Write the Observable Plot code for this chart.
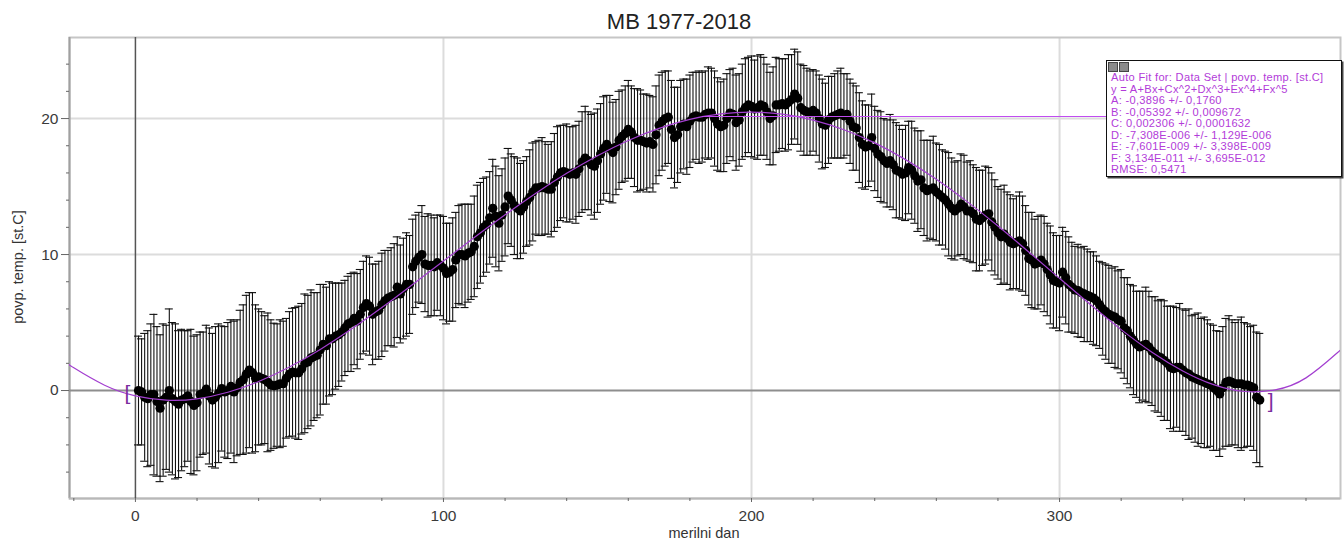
<!DOCTYPE html>
<html><head><meta charset="utf-8">
<script src="https://cdn.jsdelivr.net/npm/d3@7"></script>
<script src="https://cdn.jsdelivr.net/npm/@observablehq/plot@0.6"></script>
<style>
body{margin:0;background:#fff;}
#wrap{position:relative;width:1344px;height:540px;font-family:"Liberation Sans",Arial,sans-serif;overflow:hidden;}
#title{position:absolute;left:529px;width:300px;top:9px;text-align:center;font-size:22px;color:#222;line-height:26px;}
#xlab{position:absolute;left:604px;width:200px;top:525px;text-align:center;font-size:14.5px;color:#333;line-height:16px;}
#ylab{position:absolute;left:18px;top:267px;transform:translate(-50%,-50%) rotate(-90deg);white-space:nowrap;font-size:14.5px;color:#333;}
#fitbox{position:absolute;left:1106px;top:60px;width:230px;height:115px;border:1.5px solid #111;box-shadow:1.5px 1.5px 0 #444;background:#fff;padding:0 0 0 4px;color:#b23bd9;font-size:11.1px;line-height:11.5px;letter-spacing:0.3px;box-sizing:content-box;}
#fitbox .icons{height:11px;position:relative;}
#fitbox .icons span{position:absolute;top:1px;width:8px;height:8px;background:#8a8a8a;border:1px solid #444;}
#connector{position:absolute;height:1.5px;background:#c04cf0;}
</style></head><body><div id="wrap"></div>
<script>
// ---- data ----
const titleText = "MB 1977-2018";
const xLabel = "merilni dan";
const yLabel = "povp. temp. [st.C]";

const meanTemp = [
 0.0,-0.1,-0.5,-0.6,-0.3,-0.3,-0.8,-1.3,-0.7,-0.5,
 0.0,-0.6,-0.8,-1.0,-0.7,-0.6,-0.4,-0.8,-1.1,-0.9,
 -0.3,-0.2,0.1,-0.4,-0.7,-0.5,-0.2,0.15,-0.1,0.0,
 0.3,-0.1,0.2,0.6,0.8,1.2,1.5,1.3,0.9,1.0,
 0.9,0.8,0.6,0.4,0.35,0.4,0.5,0.5,0.9,1.2,
 1.35,1.3,1.3,1.6,2.0,2.1,2.4,2.5,2.6,3.0,
 3.4,3.3,3.8,3.8,4.0,4.1,4.3,4.6,4.9,5.0,
 5.3,5.1,5.6,6.1,6.4,6.2,5.6,5.8,5.9,6.3,
 6.6,6.8,6.9,7.0,7.6,7.1,7.5,7.8,7.8,9.1,
 9.5,9.8,10.0,9.3,9.2,9.2,9.1,9.4,9.2,9.0,
 8.6,8.7,8.9,9.6,10.0,10.0,9.9,10.1,10.2,10.6,
 11.3,11.6,12.0,12.2,12.7,13.4,12.8,12.3,12.9,13.5,
 14.3,14.0,13.6,13.4,13.2,13.5,13.9,14.2,14.6,14.9,
 14.9,15.0,14.9,14.8,14.8,15.3,15.7,16.0,16.1,16.0,
 15.9,16.0,15.9,16.3,16.8,17.1,16.9,16.6,16.5,16.9,
 17.4,17.8,18.1,17.8,17.5,17.9,18.4,18.7,18.9,19.2,
 19.0,18.6,18.4,18.4,18.3,18.2,18.3,18.1,18.8,19.5,
 19.8,20.0,20.1,19.2,18.6,18.8,19.4,19.6,19.4,19.8,
 20.1,20.2,20.1,20.1,20.3,20.4,20.4,20.0,19.6,19.4,
 19.5,20.0,20.4,20.3,19.7,19.9,20.5,20.8,21.0,20.9,
 20.7,20.8,21.0,20.9,20.5,20.0,20.2,21.0,21.0,21.1,
 21.0,21.2,21.4,21.8,21.5,20.8,20.6,20.5,20.4,20.6,
 20.4,20.0,19.6,19.5,19.9,20.1,20.2,20.3,20.4,20.2,
 20.3,19.8,19.4,19.3,18.6,18.1,17.9,18.0,18.6,17.8,
 17.4,17.2,16.9,16.7,16.9,16.6,16.2,16.1,15.9,16.0,
 16.4,16.2,15.8,15.4,15.5,14.9,14.7,14.8,14.9,14.6,
 14.4,14.2,14.0,13.7,13.4,13.2,13.4,13.7,13.5,13.2,
 13.2,13.0,12.6,12.5,12.7,12.9,13.0,12.4,12.0,11.6,
 11.3,11.5,11.2,10.9,10.8,10.9,11.0,10.8,10.3,9.7,
 9.6,9.3,9.4,9.6,9.3,8.9,8.5,8.1,8.0,7.9,
 8.7,8.3,7.8,7.6,7.4,7.35,7.2,7.1,7.0,6.9,
 6.8,6.6,6.3,6.0,5.8,5.6,5.5,5.4,5.2,5.1,
 4.6,4.4,4.0,3.7,3.4,3.2,3.3,3.4,3.2,2.9,
 2.7,2.5,2.4,2.2,2.0,1.7,1.6,1.7,1.7,1.5,
 1.3,1.2,1.0,0.9,0.8,0.7,0.6,0.5,0.4,0.2,
 0.0,-0.25,0.2,0.6,0.7,0.6,0.5,0.5,0.5,0.4,
 0.4,0.3,0.2,-0.5,-0.7
];

const sdTemp = [
 4.0,3.9,4.7,5.0,5.2,5.9,5.5,5.4,5.6,5.3,
 6.0,5.6,5.7,5.4,5.2,5.0,4.8,5.3,5.1,5.0,
 4.6,4.5,4.7,5.0,4.9,5.2,5.1,4.6,4.8,5.0,
 4.9,5.2,5.0,5.3,5.5,5.8,5.7,5.9,5.4,5.0,
 4.9,4.7,5.1,4.8,4.6,4.5,4.7,4.6,4.4,4.6,
 4.7,4.8,4.9,4.8,5.1,4.9,5.0,4.7,4.6,4.8,
 4.4,4.3,4.2,4.1,3.9,3.8,3.6,3.5,3.5,3.6,
 3.4,3.5,3.3,3.4,3.5,3.6,3.7,3.5,3.6,3.8,
 3.7,3.5,3.6,3.8,3.7,3.6,3.7,3.8,3.6,3.5,
 3.4,3.3,3.6,3.5,3.8,3.7,3.6,3.5,3.7,3.8,
 3.7,3.6,3.8,3.5,3.6,3.7,3.8,3.6,3.5,3.7,
 3.8,3.7,3.6,3.5,3.4,3.6,3.7,3.5,3.4,3.6,
 3.5,3.4,3.6,3.7,3.5,3.4,3.3,3.5,3.6,3.4,
 3.5,3.6,3.4,3.3,3.5,3.6,3.7,3.5,3.4,3.6,
 3.5,3.4,3.6,3.5,3.7,3.8,3.6,3.7,3.9,3.8,
 3.7,3.8,3.6,3.9,3.7,3.5,3.6,3.4,3.5,3.6,
 3.4,3.6,3.8,3.7,3.5,3.6,3.4,3.5,3.6,3.7,
 3.6,3.5,3.4,3.6,3.7,3.5,3.4,3.3,3.5,3.4,
 3.3,3.2,3.4,3.3,3.2,3.4,3.3,3.5,3.4,3.3,
 3.4,3.3,3.2,3.4,3.5,3.4,3.5,3.6,3.5,3.7,
 3.6,3.8,3.7,3.6,3.5,3.4,3.6,3.5,3.4,3.3,
 3.4,3.5,3.3,3.3,3.4,3.2,3.3,3.2,3.1,3.0,
 3.1,3.2,3.3,3.1,3.2,3.0,3.1,3.2,3.3,3.1,
 3.0,3.1,3.2,3.1,3.3,3.2,3.1,3.0,3.2,3.1,
 3.2,3.3,3.1,3.2,3.4,3.3,3.5,3.4,3.3,3.5,
 3.4,3.6,3.5,3.7,3.6,3.5,3.7,3.6,3.8,3.6,
 3.7,3.5,3.6,3.8,3.7,3.6,3.5,3.7,3.8,3.6,
 3.7,3.6,3.8,3.7,3.5,3.6,3.4,3.6,3.5,3.4,
 3.5,3.6,3.4,3.5,3.3,3.4,3.6,3.5,3.3,3.4,
 3.5,3.3,3.4,3.3,3.5,3.4,3.6,3.5,3.4,3.5,
 3.3,3.4,3.5,3.3,3.2,3.4,3.3,3.5,3.4,3.3,
 3.4,3.3,3.2,3.4,3.5,3.6,3.5,3.7,3.6,3.8,
 3.7,3.9,3.8,4.0,3.9,4.1,4.0,4.2,4.1,4.0,
 4.2,4.1,4.3,4.4,4.2,4.5,4.6,4.4,4.7,4.5,
 4.6,4.8,4.5,4.7,4.9,4.6,4.8,4.7,4.5,4.6,
 4.4,4.6,4.5,4.7,4.8,4.6,4.5,4.7,4.9,4.6,
 4.5,4.4,4.6,4.8,4.9
];

// fitted polynomial curve, values read at 10-day steps
const fitDay = [-21.4,-20,-10,0,10,20,30,40,50,60,70,80,90,100,110,120,130,140,150,160,170,180,190,200,210,220,230,240,250,260,270,280,290,300,310,320,330,340,350,360,370,380,390,391.2];
const fitTemp = [1.89,1.67,0.39,-0.39,-0.71,-0.61,-0.13,0.66,1.73,3.02,4.50,6.10,7.80,9.52,11.25,12.92,14.51,15.97,17.27,18.39,19.28,19.94,20.34,20.47,20.32,19.89,19.18,18.21,16.98,15.53,13.89,12.10,10.19,8.25,6.32,4.48,2.82,1.44,0.43,-0.07,0.05,0.93,2.74,2.98];

const fitParams = [
  ["A", "-0,3896", "0,1760"],
  ["B", "-0,05392", "0,009672"],
  ["C", "0,002306", "0,0001632"],
  ["D", "-7,308E-006", "1,129E-006"],
  ["E", "-7,601E-009", "3,398E-009"],
  ["F", "3,134E-011", "3,695E-012"]
];
const fitHeader = "Auto Fit for: Data Set | povp. temp. [st.C]";
const fitEquation = "y = A+Bx+Cx^2+Dx^3+Ex^4+Fx^5";
const fitRMSE = "0,5471";
const labelDay = 184;      // point of the fit curve the label box is tied to
const labelTemp = 20.1;

const xMajorTicks = [0, 100, 200, 300];
const xMinorTicks = [-20, 20, 40, 60, 80, 120, 140, 160, 180, 220, 240, 260, 280, 320, 340, 360, 380];
const yMajorTicks = [0, 10, 20];
const yMinorTicks = [-6, -4, -2, 2, 4, 6, 8, 12, 14, 16, 18, 22, 24];
const xDomain = [-21.4, 391.2];
const yDomain = [-7.94, 25.96];

// ---- build ----
const days = meanTemp.map((_, i) => i + 1);
const rows = days.map((d, i) => ({day: d, mean: meanTemp[i], sd: sdTemp[i]}));
const fit = fitDay.map((d, i) => ({day: d, t: fitTemp[i]}));
const ends = [rows[0], rows[rows.length - 1]];

const fontFamily = "'Liberation Sans', Arial, sans-serif";
const lightGrid = "#dcdcdc";
const chart = Plot.plot({
  width: 1344, height: 540,
  marginLeft: 69, marginRight: 4, marginTop: 37, marginBottom: 42,
  x: {domain: xDomain},
  y: {domain: yDomain},
  style: {fontFamily, fontSize: "15px", color: "#3a3a3a", background: "transparent"},
  marks: [
    Plot.gridX(xMajorTicks.filter(d => d !== 0), {stroke: lightGrid, strokeOpacity: 1, strokeWidth: 2}),
    Plot.gridY(yMajorTicks.filter(d => d !== 0), {stroke: lightGrid, strokeOpacity: 1, strokeWidth: 2}),
    Plot.frame({stroke: "#c6c6c6", strokeWidth: 2}),
    Plot.ruleX([xDomain[0]], {stroke: "#a0a0a0", strokeWidth: 2}),
    Plot.ruleY([yDomain[0]], {stroke: "#b8b8b8", strokeWidth: 2}),
    Plot.ruleY([0], {stroke: "#8e8e8e", strokeWidth: 2}),
    Plot.ruleX([0], {stroke: "#555", strokeWidth: 1.5}),
    Plot.axisX({ticks: xMajorTicks, tickSize: 4, tickPadding: 7, label: null, stroke: "#666", fontSize: 15.5}),
    Plot.axisX({ticks: xMinorTicks, tickSize: 3, tickFormat: () => "", label: null, stroke: "#666"}),
    Plot.axisY({ticks: yMajorTicks, tickSize: 8, tickPadding: 3, label: null, stroke: "#666", fontSize: 15.5}),
    Plot.axisY({ticks: yMinorTicks, tickSize: 3, tickFormat: () => "", label: null, stroke: "#666"}),
    // error bars
    Plot.ruleX(rows, {x: "day", y1: d => d.mean - d.sd, y2: d => d.mean + d.sd, stroke: "#111", strokeWidth: 1.1}),
    Plot.ruleY(rows, {y: d => d.mean + d.sd, x1: d => d.day - 1.3, x2: d => d.day + 1.3, stroke: "#111", strokeWidth: 1.1}),
    Plot.ruleY(rows, {y: d => d.mean - d.sd, x1: d => d.day - 1.3, x2: d => d.day + 1.3, stroke: "#111", strokeWidth: 1.1}),
    // means
    Plot.dot(rows, {x: "day", y: "mean", r: 4.6, fill: "#000", stroke: "none"}),
    // fit curve
    Plot.line(fit, {x: "day", y: "t", stroke: "#a33fd0", strokeWidth: 1.2, curve: "natural", clip: true}),
    // fit range brackets
    Plot.text([ends[0]], {x: "day", y: "mean", text: () => "[", dx: -11, dy: 3, fontSize: 21, fill: "#7b2c9e"}),
    Plot.text([ends[1]], {x: "day", y: "mean", text: () => "]", dx: 11, dy: 1, fontSize: 21, fill: "#7b2c9e"})
  ]
});

const wrap = document.getElementById("wrap");
wrap.appendChild(chart);

const t = document.createElement("div"); t.id = "title"; t.textContent = titleText; wrap.appendChild(t);
const xl = document.createElement("div"); xl.id = "xlab"; xl.textContent = xLabel; wrap.appendChild(xl);
const yl = document.createElement("div"); yl.id = "ylab"; yl.textContent = yLabel; wrap.appendChild(yl);

// connector from fit curve to box
const sx = chart.scale("x"), sy = chart.scale("y");
const cx = sx.apply(labelDay), cy = sy.apply(labelTemp);
const boxLeft = 1106;
const conn = document.createElement("div"); conn.id = "connector";
conn.style.left = cx + "px"; conn.style.width = (boxLeft - cx) + "px"; conn.style.top = (cy - 0.75) + "px";
wrap.appendChild(conn);

const box = document.createElement("div"); box.id = "fitbox";
const icons = document.createElement("div"); icons.className = "icons";
icons.innerHTML = '<span style="left:-3px"></span><span style="left:8px"></span>';
box.appendChild(icons);
const lines = [fitHeader, fitEquation, ...fitParams.map(p => `${p[0]}: ${p[1]} +/- ${p[2]}`), `RMSE: ${fitRMSE}`];
for (const l of lines) { const d = document.createElement("div"); d.textContent = l; d.style.whiteSpace = "nowrap"; box.appendChild(d); }
wrap.appendChild(box);
</script></body></html>
